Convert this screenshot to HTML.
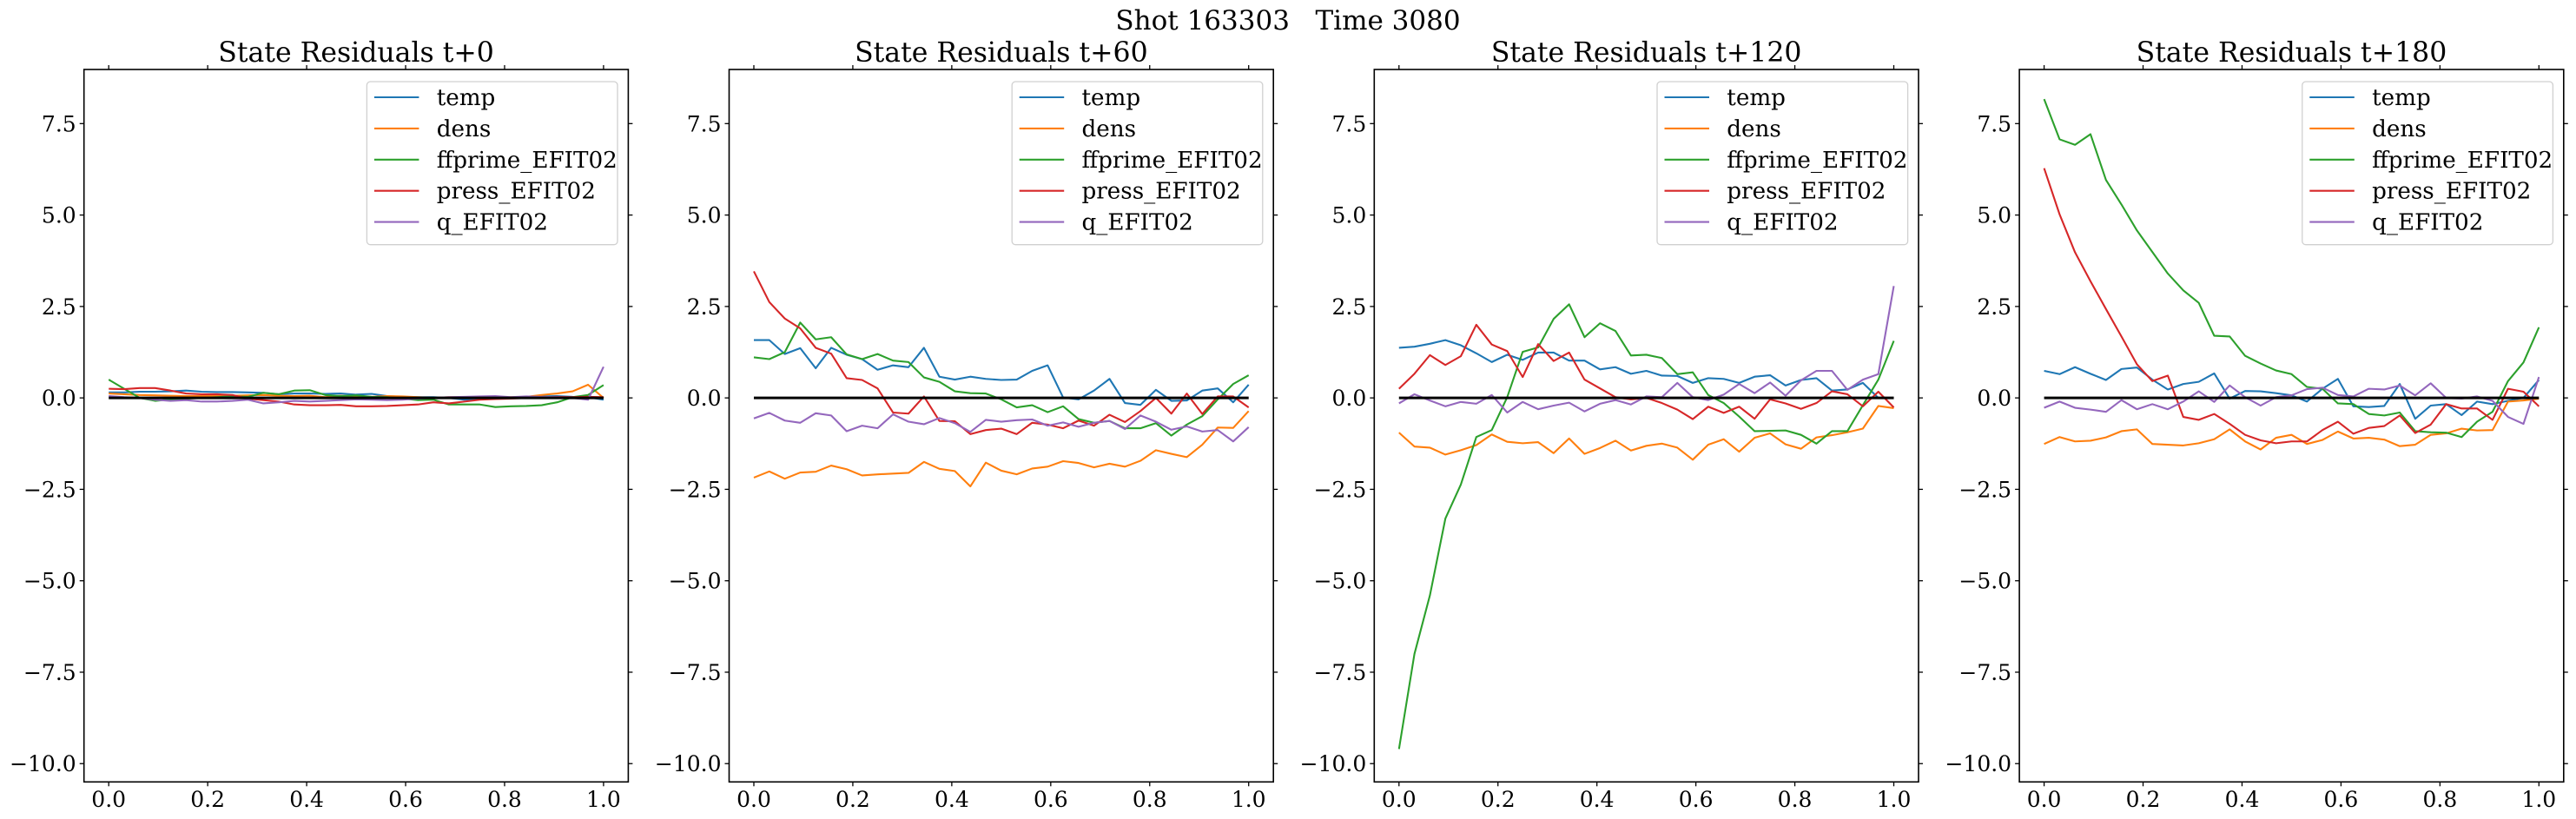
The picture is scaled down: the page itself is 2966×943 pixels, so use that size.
<!DOCTYPE html>
<html><head><meta charset="utf-8">
<style>
html,body{margin:0;padding:0;background:#fff;}
svg{display:block;}
text{font-family:"DejaVu Serif","Liberation Serif",serif;fill:#000;}
</style></head>
<body>
<svg id="fig" width="2966" height="943" viewBox="0 0 2966 943" xmlns="http://www.w3.org/2000/svg">
<rect width="2966" height="943" fill="#fff"/>
<text x="1483" y="34" font-size="31" text-anchor="middle" xml:space="preserve">Shot 163303   Time 3080</text>
</svg>
<script>
const panelTitles = ["State Residuals t+0","State Residuals t+60","State Residuals t+120","State Residuals t+180"];
const seriesNames = ["temp","dens","ffprime_EFIT02","press_EFIT02","q_EFIT02"];
const seriesColors = ["#1f77b4","#ff7f0e","#2ca02c","#d62728","#9467bd"];
const yTicks = [7.5,5.0,2.5,0.0,-2.5,-5.0,-7.5,-10.0];
const yTickLabels = ["7.5","5.0","2.5","0.0","\u22122.5","\u22125.0","\u22127.5","\u221210.0"];
const xTicks = [0,0.2,0.4,0.6,0.8,1.0];
const xTickLabels = ["0.0","0.2","0.4","0.6","0.8","1.0"];
const nPoints = 33;

const p0_temp = [0.15,0.15,0.17,0.17,0.18,0.2,0.17,0.16,0.16,0.15,0.14,0.10,0.12,0.12,0.11,0.12,0.09,0.11,0.05,0.03,0.02,0.02,0.0,-0.05,-0.03,-0.02,0.0,0.02,0.04,0.05,0.03,0.02,-0.05];
const p0_dens = [0.12,0.1,0.08,0.07,0.06,0.05,0.05,0.06,0.06,0.07,0.08,0.06,0.05,0.06,0.02,0.06,0.04,0.03,0.05,0.04,0.02,0.0,0.02,0.02,0.0,0.0,0.02,0.03,0.08,0.12,0.18,0.36,0.0];
const p0_ffprime = [0.5,0.25,0.0,-0.08,-0.04,-0.02,0.0,0.02,0.04,0.03,0.14,0.1,0.2,0.21,0.08,0.05,0.07,0.03,0.02,-0.02,-0.06,-0.05,-0.18,-0.18,-0.18,-0.25,-0.23,-0.22,-0.2,-0.12,0.02,0.08,0.35];
const p0_press = [0.25,0.24,0.27,0.27,0.2,0.12,0.1,0.1,0.08,-0.02,-0.06,-0.1,-0.18,-0.2,-0.2,-0.19,-0.23,-0.23,-0.22,-0.2,-0.18,-0.12,-0.15,-0.1,-0.05,-0.03,-0.02,0.0,0.02,0.03,0.02,0.03,0.02];
const p0_q = [0.05,0.02,0.0,-0.05,-0.08,-0.06,-0.1,-0.1,-0.08,-0.05,-0.15,-0.12,-0.08,-0.1,-0.08,-0.06,-0.04,-0.05,-0.06,-0.05,-0.02,0.0,0.02,0.03,0.04,0.05,0.02,0.04,0.03,0.02,0.0,-0.05,0.85];

const p1_temp = [1.58,1.58,1.20,1.36,0.81,1.37,1.18,1.06,0.77,0.89,0.84,1.37,0.58,0.50,0.58,0.52,0.49,0.50,0.74,0.89,0.01,-0.04,0.20,0.52,-0.14,-0.19,0.22,-0.08,-0.07,0.20,0.26,-0.12,0.36];
const p1_dens = [-2.18,-2.01,-2.21,-2.04,-2.02,-1.85,-1.95,-2.12,-2.09,-2.07,-2.05,-1.75,-1.94,-2.00,-2.42,-1.77,-1.99,-2.09,-1.93,-1.88,-1.73,-1.78,-1.90,-1.80,-1.88,-1.72,-1.43,-1.53,-1.62,-1.28,-0.81,-0.82,-0.36];
const p1_ffprime = [1.11,1.06,1.25,2.06,1.60,1.66,1.19,1.06,1.20,1.02,0.98,0.56,0.44,0.18,0.13,0.12,-0.04,-0.26,-0.20,-0.39,-0.23,-0.58,-0.68,-0.63,-0.83,-0.83,-0.69,-1.03,-0.73,-0.50,-0.04,0.38,0.62];
const p1_press = [3.46,2.62,2.17,1.90,1.37,1.21,0.54,0.49,0.26,-0.40,-0.43,0.04,-0.63,-0.64,-0.99,-0.88,-0.84,-0.99,-0.68,-0.73,-0.83,-0.62,-0.76,-0.46,-0.66,-0.36,0.0,-0.43,0.12,-0.44,0.04,0.04,-0.26];
const p1_q = [-0.56,-0.41,-0.62,-0.68,-0.42,-0.48,-0.91,-0.76,-0.83,-0.45,-0.65,-0.72,-0.55,-0.69,-0.93,-0.60,-0.65,-0.61,-0.59,-0.76,-0.67,-0.79,-0.68,-0.63,-0.85,-0.48,-0.65,-0.87,-0.78,-0.92,-0.88,-1.19,-0.80];

const p2_temp = [1.37,1.40,1.48,1.58,1.44,1.22,0.98,1.18,1.04,1.24,1.24,1.02,1.02,0.78,0.84,0.66,0.74,0.61,0.60,0.41,0.54,0.52,0.41,0.58,0.62,0.34,0.49,0.54,0.20,0.23,0.41,0.0,0.0];
const p2_dens = [-0.95,-1.33,-1.36,-1.55,-1.43,-1.29,-1.00,-1.20,-1.24,-1.21,-1.51,-1.11,-1.53,-1.37,-1.17,-1.44,-1.31,-1.25,-1.36,-1.69,-1.28,-1.13,-1.47,-1.09,-0.97,-1.27,-1.39,-1.08,-1.02,-0.94,-0.84,-0.22,-0.28];
const p2_ffprime = [-9.6,-7.0,-5.4,-3.3,-2.37,-1.07,-0.88,0.02,1.26,1.38,2.16,2.56,1.66,2.04,1.83,1.16,1.18,1.09,0.65,0.70,0.08,-0.14,-0.51,-0.91,-0.90,-0.89,-1.01,-1.25,-0.91,-0.91,-0.20,0.50,1.56];
const p2_press = [0.25,0.66,1.17,0.90,1.14,2.00,1.46,1.28,0.57,1.47,1.01,1.24,0.50,0.26,0.02,-0.04,0.0,-0.14,-0.32,-0.58,-0.24,-0.41,-0.24,-0.57,-0.04,-0.15,-0.30,-0.14,0.18,0.10,-0.23,0.17,-0.26];
const p2_q = [-0.15,0.10,-0.07,-0.23,-0.11,-0.16,0.08,-0.40,-0.11,-0.31,-0.21,-0.13,-0.37,-0.16,-0.06,-0.18,0.04,0.02,0.41,0.02,-0.06,0.09,0.38,0.13,0.42,0.06,0.48,0.74,0.74,0.22,0.50,0.65,3.06];

const p3_temp = [0.74,0.65,0.84,0.66,0.49,0.79,0.83,0.50,0.23,0.38,0.44,0.67,-0.02,0.19,0.18,0.13,0.07,-0.10,0.25,0.52,-0.23,-0.25,-0.22,0.38,-0.57,-0.21,-0.17,-0.47,-0.10,-0.17,-0.08,0.0,0.49];
const p3_dens = [-1.26,-1.07,-1.19,-1.17,-1.08,-0.91,-0.86,-1.26,-1.28,-1.30,-1.24,-1.13,-0.86,-1.19,-1.41,-1.09,-1.01,-1.26,-1.15,-0.92,-1.11,-1.09,-1.14,-1.32,-1.28,-1.01,-0.97,-0.84,-0.89,-0.88,-0.10,-0.07,-0.02];
const p3_ffprime = [8.17,7.07,6.92,7.21,5.96,5.29,4.58,3.99,3.40,2.94,2.60,1.70,1.68,1.15,0.94,0.75,0.65,0.30,0.25,-0.15,-0.17,-0.44,-0.48,-0.40,-0.91,-0.94,-0.95,-1.07,-0.65,-0.38,0.46,0.97,1.93];
const p3_press = [6.28,5.02,3.98,3.19,2.43,1.68,0.92,0.46,0.61,-0.52,-0.60,-0.44,-0.71,-1.01,-1.16,-1.24,-1.19,-1.19,-0.88,-0.65,-0.98,-0.82,-0.77,-0.48,-0.96,-0.73,-0.17,-0.29,-0.29,-0.60,0.25,0.17,-0.23];
const p3_q = [-0.27,-0.10,-0.27,-0.32,-0.38,-0.06,-0.31,-0.17,-0.31,-0.10,0.18,-0.11,0.34,0.02,-0.21,0.02,0.07,0.24,0.28,0.08,0.04,0.25,0.23,0.34,0.07,0.40,0.0,-0.02,0.04,-0.08,-0.52,-0.71,0.57];

const panelData = [
  [p0_temp,p0_dens,p0_ffprime,p0_press,p0_q],
  [p1_temp,p1_dens,p1_ffprime,p1_press,p1_q],
  [p2_temp,p2_dens,p2_ffprime,p2_press,p2_q],
  [p3_temp,p3_dens,p3_ffprime,p3_press,p3_q]
];

const NS = "http://www.w3.org/2000/svg";
const svg = document.getElementById('fig');
function mk(tag, attrs, parent){
  const e = document.createElementNS(NS, tag);
  for (const k in attrs) e.setAttribute(k, attrs[k]);
  (parent||svg).appendChild(e);
  return e;
}
const AX_LEFT0 = 96.7, AX_W = 626.7, AX_STEP = 742.8, AX_TOP = 80, AX_BOT = 900.3;
const XMIN = -0.05, XMAX = 1.05, YMIN = -10.5, YMAX = 8.98;
const TICK_FS = 25, LEG_FS = 26.2, TITLE_FS = 31.5;

panelTitles.forEach((title, p) => {
  const L = AX_LEFT0 + p*AX_STEP, R = L + AX_W;
  const xs = v => L + (v - XMIN)/(XMAX - XMIN)*AX_W;
  const ys = v => AX_BOT - (v - YMIN)/(YMAX - YMIN)*(AX_BOT - AX_TOP);
  const g = mk('g', {});
  
  

  const t = mk('text', {x:(L+R)/2, y:71, 'font-size':TITLE_FS, 'text-anchor':'middle'}, g);
  t.textContent = title;
  
  

  const cp = mk('clipPath', {id:'clip'+p}, g);
  mk('rect', {x:L, y:AX_TOP, width:AX_W, height:AX_BOT-AX_TOP}, cp);

  panelData[p].forEach((arr, s) => {
    let d = '';
    arr.forEach((v, i) => {
      const x = xs(i/(nPoints-1)), y = ys(v);
      d += (i ? 'L' : 'M') + x.toFixed(2) + ' ' + y.toFixed(2);
    });
    const path = mk('path', {d:d, fill:'none', stroke:seriesColors[s], 'stroke-width':2.1, 'stroke-linejoin':'round', 'clip-path':'url(#clip'+p+')'}, g);
    
    
  });
  const zl = mk('line', {x1:xs(0), x2:xs(1), y1:ys(0), y2:ys(0), stroke:'#000', 'stroke-width':3}, g);
  
  

  const fr = mk('rect', {x:L, y:AX_TOP, width:AX_W, height:AX_BOT-AX_TOP, fill:'none', stroke:'#000', 'stroke-width':1.6}, g);
  
  

  yTicks.forEach((v, i) => {
    const y = ys(v);
    mk('line', {x1:L-5, x2:L, y1:y, y2:y, stroke:'#000', 'stroke-width':1.3}, g);
    mk('line', {x1:R, x2:R+5, y1:y, y2:y, stroke:'#000', 'stroke-width':1.3}, g);
    const tl = mk('text', {x:L-9, y:y+9, 'font-size':TICK_FS, 'text-anchor':'end'}, g);
    tl.textContent = yTickLabels[i];
    
    
  });
  xTicks.forEach((v, i) => {
    const x = xs(v);
    mk('line', {x1:x, x2:x, y1:AX_BOT, y2:AX_BOT+5, stroke:'#000', 'stroke-width':1.3}, g);
    mk('line', {x1:x, x2:x, y1:AX_TOP-5, y2:AX_TOP, stroke:'#000', 'stroke-width':1.3}, g);
    const tl = mk('text', {x:x, y:929, 'font-size':TICK_FS, 'text-anchor':'middle'}, g);
    tl.textContent = xTickLabels[i];
    
    
  });

  const lg = mk('g', {}, g);
  
  
  const bx = R - 301, by = 94;
  mk('rect', {x:bx, y:by, width:288.6, height:187.7, rx:4, fill:'#fff', 'fill-opacity':0.8, stroke:'#d0d0d0', 'stroke-width':1.3}, lg);
  seriesNames.forEach((name, s) => {
    const cy = 112 + s*35.9;
    const e = mk('g', {}, lg);
    
    
    mk('line', {x1:bx+8.5, x2:bx+60, y1:cy, y2:cy, stroke:seriesColors[s], 'stroke-width':2.1}, e);
    const tx = mk('text', {x:bx+80.3, y:cy+9, 'font-size':LEG_FS}, e);
    tx.textContent = name;
  });
});
</script>
</body></html>
